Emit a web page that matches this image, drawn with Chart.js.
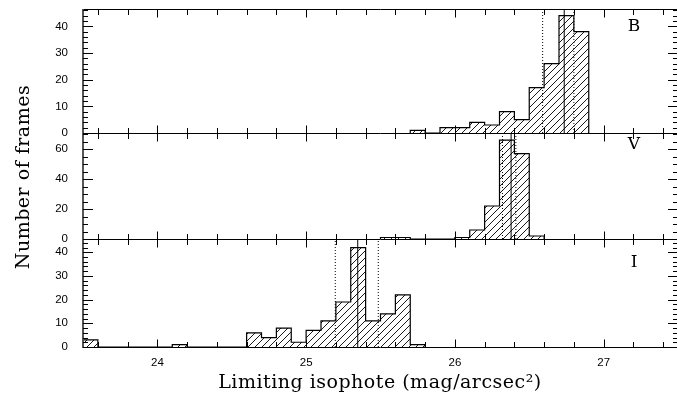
<!DOCTYPE html>
<html>
<head>
<meta charset="utf-8">
<script src="https://cdn.jsdelivr.net/npm/chart.js@4.4.1/dist/chart.umd.min.js"></script>
<style>
  html, body { margin: 0; padding: 0; background: #fff; overflow: hidden; }
  #wrap { position: relative; width: 680px; height: 393px; }
</style>
</head>
<body>
<div id="wrap"><canvas id="hist" width="680" height="393"></canvas></div>
<script>
// 0.1 mag bins: first lower edge, then counts for consecutive bins
const startB = 25.7;
const countB = [1, 0, 2, 2, 4, 3, 8, 5, 17, 26, 44, 38];
const startV = 25.5;
const countV = [1, 1, 0, 0, 0, 1, 6, 22, 66, 57, 2];
const startI = 23.5;
const countI = [3, 0, 0, 0, 0, 0, 1, 0, 0, 0, 0, 6, 4, 8, 2, 7, 11, 19, 42, 11, 14, 22, 1];

// lower quartile, median, upper quartile
const quartB = [26.59, 26.735, 26.80];
const quartV = [26.32, 26.378, 26.41];
const quartI = [25.196, 25.347, 25.485];

const bands = ['B', 'V', 'I'];
const yMax = [46.5, 70.7, 45.6];
const yTicksB = [0, 10, 20, 30, 40];
const yTicksV = [0, 20, 40, 60];
const yTicksI = [0, 10, 20, 30, 40];
const xTicks = [24, 25, 26, 27];

const BIN = 0.1;

function stepPoints(start, counts) {
    const pts = [{ x: start, y: 0 }];
    counts.forEach((c, i) => {
        pts.push({ x: Math.round((start + i * BIN) * 10) / 10, y: c });
    });
    pts.push({ x: Math.round((start + counts.length * BIN) * 10) / 10, y: 0 });
    return pts;
}

function hatch() {
    const s = 7;
    const c = document.createElement('canvas');
    c.width = s; c.height = s;
    const g = c.getContext('2d');
    g.strokeStyle = '#000';
    g.lineWidth = 0.9;
    g.beginPath();
    g.moveTo(0, s); g.lineTo(s, 0);
    g.moveTo(-1, 1); g.lineTo(1, -1);
    g.moveTo(s - 1, s + 1); g.lineTo(s + 1, s - 1);
    g.stroke();
    return g.createPattern(c, 'repeat');
}

const pattern = hatch();

function quartLines(q, axis, max) {
    return q.map((v, i) => ({
        type: 'line',
        data: [{ x: v, y: 0 }, { x: v, y: max }],
        yAxisID: axis,
        borderColor: '#000',
        borderWidth: 1,
        borderDash: i === 1 ? [] : [1, 2],
        pointRadius: 0,
        fill: false
    }));
}

function histo(start, counts, axis) {
    return {
        type: 'line',
        data: stepPoints(start, counts),
        yAxisID: axis,
        stepped: true,
        borderColor: '#000',
        borderWidth: 1.2,
        backgroundColor: pattern,
        fill: 'origin',
        pointRadius: 0
    };
}

const tickFont = { family: 'Liberation Sans', size: 11.5 };

function yScale(max, ticks, weight) {
    return {
        type: 'linear',
        position: 'left',
        stack: 'panels',
        stackWeight: weight,
        min: 0,
        max: max,
        grid: { display: false, drawTicks: false },
        border: { display: false },
        ticks: { color: '#000', font: tickFont, padding: 15, autoSkip: false },
        afterBuildTicks: s => { s.ticks = ticks.map(v => ({ value: v })); },
        afterFit: s => { s.width = 83; s.paddingTop = 0; s.paddingBottom = 0; }
    };
}

// frame, inward tick marks, band letters and axis titles
const framePlugin = {
    id: 'frame',
    afterDatasetsDraw(chart) {
        const ctx = chart.ctx;
        const x = chart.scales.x;
        const panels = [chart.scales.yB, chart.scales.yV, chart.scales.yI];
        const minorStep = [2, 5, 2];
        const majorStep = [10, 20, 10];
        const L = x.left, R = x.right;
        ctx.save();
        ctx.strokeStyle = '#000';
        ctx.lineWidth = 1;

        // horizontal panel borders
        const edges = [panels[0].top, panels[0].bottom, panels[1].bottom, panels[2].bottom];
        ctx.beginPath();
        edges.forEach(y => { ctx.moveTo(L, Math.round(y) + 0.5); ctx.lineTo(R, Math.round(y) + 0.5); });
        ctx.moveTo(R - 0.5, edges[0]); ctx.lineTo(R - 0.5, edges[3]);
        ctx.stroke();
        ctx.strokeStyle = '#555';
        ctx.lineWidth = 2;
        ctx.beginPath();
        ctx.moveTo(L, edges[0]); ctx.lineTo(L, edges[3] + 1);
        ctx.stroke();

        // x ticks every 0.2 mag
        ctx.strokeStyle = '#000';
        ctx.lineWidth = 1;
        ctx.beginPath();
        for (let v = 23.6; v < 27.5; v += 0.2) {
            const px = Math.round(x.getPixelForValue(v)) + 0.5;
            const major = Math.abs(v - Math.round(v)) < 1e-6;
            const len = major ? 8 : 5.5;
            edges.forEach((y, k) => {
                const yy = Math.round(y) + 0.5;
                if (k < 3) { ctx.moveTo(px, yy); ctx.lineTo(px, yy + len); }
                if (k > 0) { ctx.moveTo(px, yy); ctx.lineTo(px, yy - len); }
            });
        }
        // y ticks on both sides
        panels.forEach((s, k) => {
            for (let v = 0; v <= s.max; v += minorStep[k]) {
                const py = Math.round(s.getPixelForValue(v)) + 0.5;
                const len = v % majorStep[k] === 0 ? 10 : 5;
                ctx.moveTo(L, py); ctx.lineTo(L + len, py);
                ctx.moveTo(R, py); ctx.lineTo(R - len, py);
            }
        });
        ctx.stroke();

        // band letters
        ctx.fillStyle = '#000';
        ctx.font = '17px "DejaVu Serif"';
        ctx.textAlign = 'center';
        ctx.textBaseline = 'middle';
        const letterY = [27, 145, 263];
        bands.forEach((b, k) => ctx.fillText(b, 634, letterY[k]));

        // axis titles
        ctx.font = '19px "DejaVu Serif"';
        ctx.letterSpacing = '0.5px';
        ctx.textBaseline = 'alphabetic';
        ctx.fillText('Limiting isophote (mag/arcsec²)', 380, 388);
        ctx.translate(29, 177);
        ctx.rotate(-Math.PI / 2);
        ctx.fillText('Number of frames', 0, 0);
        ctx.restore();
    }
};

new Chart(document.getElementById('hist'), {
    type: 'line',
    data: {
        datasets: [
            ...quartLines(quartB, 'yB', yMax[0]),
            ...quartLines(quartV, 'yV', yMax[1]),
            ...quartLines(quartI, 'yI', yMax[2]),
            histo(startB, countB, 'yB'),
            histo(startV, countV, 'yV'),
            histo(startI, countI, 'yI')
        ]
    },
    options: {
        responsive: false,
        animation: false,
        devicePixelRatio: 1,
        events: [],
        layout: { padding: { top: 9, right: 2, left: 0, bottom: 0 } },
        plugins: {
            legend: { display: false },
            tooltip: { enabled: false }
        },
        scales: {
            x: {
                type: 'linear',
                min: 23.5,
                max: 27.5,
                grid: { display: false, drawTicks: false },
                border: { display: false },
                ticks: { color: '#000', font: tickFont, padding: 9, maxRotation: 0 },
                afterBuildTicks: s => { s.ticks = xTicks.map(v => ({ value: v })); },
                afterFit: s => { s.height = 46; s.paddingLeft = 0; s.paddingRight = 0; }
            },
            // stacked axes are placed bottom-up in the order given
            yI: yScale(yMax[2], yTicksI, 108),
            yV: yScale(yMax[1], yTicksV, 106),
            yB: yScale(yMax[0], yTicksB, 124)
        }
    },
    plugins: [framePlugin]
});
</script>
</body>
</html>
